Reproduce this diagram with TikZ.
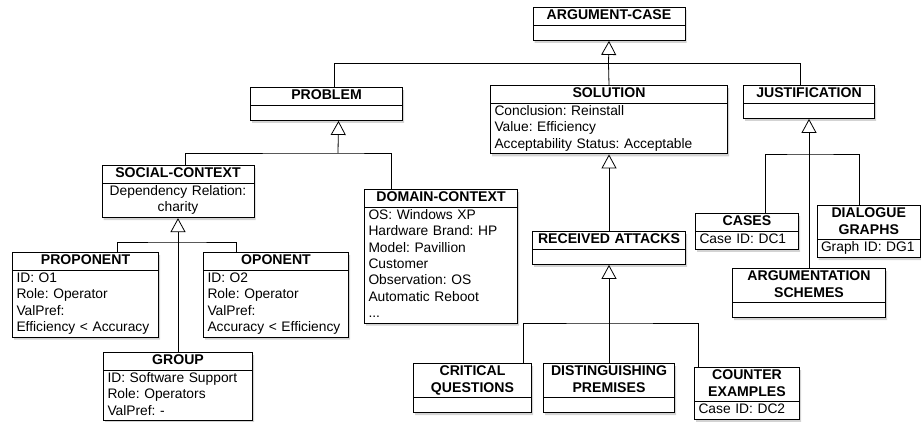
\documentclass[tikz,border=0pt]{standalone}
\usepackage{fontspec}
\setmainfont{Liberation Sans}
\usetikzlibrary{shapes.multipart, shadows, arrows.meta}
\newcommand{\clstitle}{\centering\bfseries\fontsize{14.1}{16.3}\selectfont\strut}
\newcommand{\clsempty}{\rule{0pt}{13.4pt}}

\begin{document}
\begin{tikzpicture}[x=1pt, y=-1pt,
  cls/.style={rectangle split, rectangle split parts=2, draw, line width=1pt, fill=white,
    drop shadow={shadow xshift=1.5pt, shadow yshift=-2.5pt, opacity=0.35},
    inner xsep=4pt, inner ysep=0.3pt, anchor=north west,
    font=\fontsize{13.8}{16.3}\selectfont\frenchspacing},
  isa/.style={-{Triangle[open, width=15pt, length=14pt]}, line width=0.8pt},
  link/.style={line width=0.8pt}]
			\useasboundingbox (0,0) rectangle (921,421);

			% Nodes
			\node (argcase) [cls, text width=144pt] at (532.5,7) {\clstitle ARGUMENT-CASE\par\nodepart{two}\clsempty};
			\node (problem) [cls, text width=144pt] at (250,87) {\clstitle PROBLEM\par\nodepart{two}\clsempty};
			\node (solution) [cls, text width=229pt] at (490,85) {\clstitle SOLUTION\par\nodepart{two}\raggedright\strut Conclusion: Reinstall\\Value: Efficiency\\Acceptability Status: Acceptable\strut\par};
			\node (justif) [cls, text width=123pt] at (743,85) {\clstitle JUSTIFICATION\par\nodepart{two}\clsempty};
			\node (social) [cls, text width=144pt] at (101.5,165) {\clstitle SOCIAL-CONTEXT\par\nodepart{two}\centering\strut Dependency Relation:\\charity\strut\par};
			\node (domain) [cls, text width=145pt] at (364,189) {\clstitle DOMAIN-CONTEXT\par\nodepart{two}\raggedright\strut OS: Windows XP\\Hardware Brand: HP\\Model: Pavillion\\Customer\\Observation: OS\\Automatic Reboot\\...\strut\par};
			\node (proponent) [cls, text width=138pt] at (12,252) {\clstitle PROPONENT\par\nodepart{two}\raggedright\strut ID: O1\\Role: Operator\\ValPref:\\Efficiency < Accuracy\strut\par};
			\node (oponent) [cls, text width=137pt] at (203,252) {\clstitle OPONENT\par\nodepart{two}\raggedright\strut ID: O2\\Role: Operator\\ValPref:\\Accuracy < Efficiency\strut\par};
			\node (group) [cls, text width=141pt] at (103,352) {\clstitle GROUP\par\nodepart{two}\raggedright\strut ID: Software Support\\Role: Operators\\ValPref: -\strut\par};
			\node (received) [cls, text width=145pt] at (532,231) {\clstitle RECEIVED ATTACKS\par\nodepart{two}\clsempty};
			\node (cases) [cls, text width=95pt] at (695,213) {\clstitle CASES\par\nodepart{two}\raggedright\strut Case ID: DC1\strut\par};
			\node (dialogue) [cls, text width=95.5pt] at (816.5,205) {\clstitle DIALOGUE\\GRAPHS\strut\par\nodepart{two}\raggedright\strut Graph ID: DG1\strut\par};
			\node (argschemes) [cls, text width=145pt] at (732,268) {\clstitle ARGUMENTATION\\SCHEMES\strut\par\nodepart{two}\clsempty};
			\node (critical) [cls, text width=110pt] at (413,363) {\clstitle CRITICAL\\QUESTIONS\strut\par\nodepart{two}\clsempty};
			\node (disting) [cls, text width=123pt] at (543,363) {\clstitle DISTINGUISHING\\PREMISES\strut\par\nodepart{two}\clsempty};
			\node (counter) [cls, text width=97pt] at (694,367) {\clstitle COUNTER\\EXAMPLES\strut\par\nodepart{two}\raggedright\strut Case ID: DC2\strut\par};

			% Junctions
			\coordinate (acj) at (608.5,63.5);
			\coordinate (pj) at (338,153);
			\coordinate (sj) at (177.5,242);
			\coordinate (jj) at (808.5,154);
			\coordinate (rj) at (608.5,323);

			% Edges
			\draw[isa] (acj) -- (argcase.south);
			\draw[link] ([xshift=8pt]problem.north) |- (acj) -| ([xshift=-8.5pt]justif.north);
			\draw[link] (solution.north) -- (acj);
			\draw[isa] (pj) -- ([xshift=12pt]problem.south);
			\draw[link] ([xshift=7pt]social.north) |- (pj) -| ([xshift=27pt]domain.north west);
			\draw[isa] (group.north) -- (social.south);
			\draw[link] ([xshift=32pt]proponent.north) |- (sj) -| ([xshift=-39.5pt]oponent.north);
			\draw[isa] (received.north) -- (solution.south);
			\draw[isa] (argschemes.north) -- (justif.south);
			\draw[link] ([xshift=18.5pt]cases.north) |- (jj) -| ([xshift=-9.5pt]dialogue.north);
			\draw[isa] (disting.north) -- (received.south);
			\draw[link] ([xshift=51pt]critical.north) |- (rj) -| ([xshift=-48.5pt]counter.north);

		\end{tikzpicture}
\end{document}
